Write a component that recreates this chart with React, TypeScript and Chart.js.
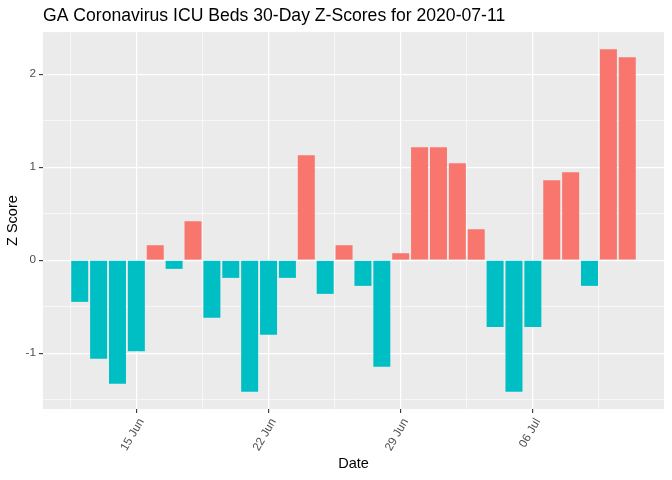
import { useEffect, useRef } from "react";
import { Chart, registerables } from "chart.js";

Chart.register(...registerables);

const dates = [
  "2020-06-12", "2020-06-13", "2020-06-14", "2020-06-15", "2020-06-16", "2020-06-17",
  "2020-06-18", "2020-06-19", "2020-06-20", "2020-06-21", "2020-06-22", "2020-06-23",
  "2020-06-24", "2020-06-25", "2020-06-26", "2020-06-27", "2020-06-28", "2020-06-29",
  "2020-06-30", "2020-07-01", "2020-07-02", "2020-07-03", "2020-07-04", "2020-07-05",
  "2020-07-06", "2020-07-07", "2020-07-08", "2020-07-09", "2020-07-10", "2020-07-11",
];

const zScores = [
  -0.448, -1.061, -1.33, -0.978, 0.161, -0.093,
  0.419, -0.62, -0.19, -1.416, -0.803, -0.19,
  1.129, -0.362, 0.161, -0.276, -1.147, 0.075,
  1.215, 1.215, 1.043, 0.333, -0.717, -1.416,
  -0.717, 0.86, 0.946, -0.276, 2.269, 2.183,
];

const xTickDates = ["2020-06-15", "2020-06-22", "2020-06-29", "2020-07-06"];
const xTickLabels = ["15 Jun", "22 Jun", "29 Jun", "06 Jul"];
const yTickValues = [-1, 0, 1, 2];
const yTickLabels = ["-1", "0", "1", "2"];

const TITLE = "GA Coronavirus ICU Beds 30-Day Z-Scores for 2020-07-11";
const POS_COLOR = "#F8766D";
const NEG_COLOR = "#00BFC4";
const FONT = "'Liberation Sans', Arial, sans-serif";

const panelBg = {
  id: "panelBg",
  beforeDraw(chart: any) {
    const { ctx, chartArea } = chart;
    if (!chartArea) return;
    ctx.save();
    ctx.fillStyle = "#EBEBEB";
    ctx.fillRect(chartArea.left, chartArea.top, chartArea.right - chartArea.left, chartArea.bottom - chartArea.top);
    ctx.restore();
  },
};

export default function App() {
  const ref = useRef<HTMLCanvasElement>(null);

  useEffect(() => {
    document.body.style.margin = "0";
    const DAY = 86400000;
    const t0 = Date.parse(dates[0]);
    const xs = dates.map((d) => (Date.parse(d) - t0) / DAY);
    const majorX = xTickDates.map((d) => (Date.parse(d) - t0) / DAY);
    const step = majorX[1] - majorX[0];
    const minorX = [majorX[0] - step / 2, ...majorX.map((v) => v + step / 2)];
    const allX = [...majorX, ...minorX].sort((a, b) => a - b);

    const xLo = Math.min(...xs) - 0.45;
    const xHi = Math.max(...xs) + 0.45;
    const xExp = (xHi - xLo) * 0.05;
    const yLo = Math.min(...zScores);
    const yHi = Math.max(...zScores);
    const yExp = (yHi - yLo) * 0.05;

    const yStep = yTickValues[1] - yTickValues[0];
    const yMinor = [yTickValues[0] - yStep / 2, ...yTickValues.map((v) => v + yStep / 2)];
    const allY = [...yTickValues, ...yMinor].sort((a, b) => a - b).filter((v) => v >= yLo - yExp && v <= yHi + yExp);

    const isMajorX = (v: number) => majorX.some((m) => Math.abs(m - v) < 1e-6);
    const isMajorY = (v: number) => yTickValues.some((m) => Math.abs(m - v) < 1e-6);

    const chart = new Chart(ref.current as HTMLCanvasElement, {
      type: "bar",
      data: {
        datasets: [
          {
            data: xs.map((x, i) => ({ x, y: zScores[i] })),
            backgroundColor: zScores.map((v) => (v > 0 ? POS_COLOR : NEG_COLOR)),
            barPercentage: 0.9,
            categoryPercentage: 1,
            borderWidth: 0,
          },
        ],
      },
      options: {
        animation: false,
        responsive: true,
        maintainAspectRatio: false,
        layout: { padding: { left: 0, right: 8, top: 0, bottom: 0 } },
        plugins: {
          legend: { display: false },
          tooltip: { enabled: false },
          title: {
            display: true,
            text: TITLE,
            align: "start",
            fullSize: false,
            color: "#000000",
            font: { family: FONT, size: 17.6, weight: "normal" },
            padding: { top: 6, bottom: 5 },
          },
        },
        scales: {
          x: {
            type: "linear",
            min: xLo - xExp,
            max: xHi + xExp,
            offset: false,
            afterBuildTicks: (s: any) => {
              s.ticks = allX.map((v) => ({ value: v }));
            },
            afterFit: (s: any) => {
              s.height = 71;
            },
            ticks: {
              autoSkip: false,
              minRotation: 60,
              maxRotation: 60,
              color: "#4D4D4D",
              font: { family: FONT, size: 11.7 },
              padding: 3,
              labelOffset: 5,
              callback: (v: any) => {
                const i = majorX.findIndex((m) => Math.abs(m - Number(v)) < 1e-6);
                return i >= 0 ? xTickLabels[i] : "";
              },
            },
            grid: {
              offset: false,
              color: "#FFFFFF",
              lineWidth: (c: any) => (c.tick && isMajorX(c.tick.value) ? 1.2 : 0.6),
              tickLength: 4,
              tickColor: (c: any) => (c.tick && isMajorX(c.tick.value) ? "#333333" : "rgba(0,0,0,0)"),
              tickWidth: 1.1,
            },
            border: { display: false },
            title: {
              display: true,
              text: "Date",
              color: "#000000",
              font: { family: FONT, size: 14.5 },
              padding: { top: 0, bottom: 7 },
            },
          },
          y: {
            type: "linear",
            min: yLo - yExp,
            max: yHi + yExp,
            afterBuildTicks: (s: any) => {
              s.ticks = allY.map((v) => ({ value: v }));
            },
            afterFit: (s: any) => {
              s.width = 43;
            },
            ticks: {
              color: "#4D4D4D",
              font: { family: FONT, size: 11.7 },
              padding: 3,
              callback: (v: any) => {
                const i = yTickValues.findIndex((m) => Math.abs(m - Number(v)) < 1e-6);
                return i >= 0 ? yTickLabels[i] : "";
              },
            },
            grid: {
              color: "#FFFFFF",
              lineWidth: (c: any) => (c.tick && isMajorY(c.tick.value) ? 1.2 : 0.6),
              tickLength: 4,
              tickColor: (c: any) => (c.tick && isMajorY(c.tick.value) ? "#333333" : "rgba(0,0,0,0)"),
              tickWidth: 1.1,
            },
            border: { display: false },
            title: {
              display: true,
              text: "Z Score",
              color: "#000000",
              font: { family: FONT, size: 14.5 },
              padding: { top: 4, bottom: 0 },
            },
          },
        },
      } as any,
      plugins: [panelBg],
    });
    return () => chart.destroy();
  }, []);

  return (
    <div style={{ width: 672, height: 480, position: "relative" }}>
      <canvas ref={ref} />
    </div>
  );
}
